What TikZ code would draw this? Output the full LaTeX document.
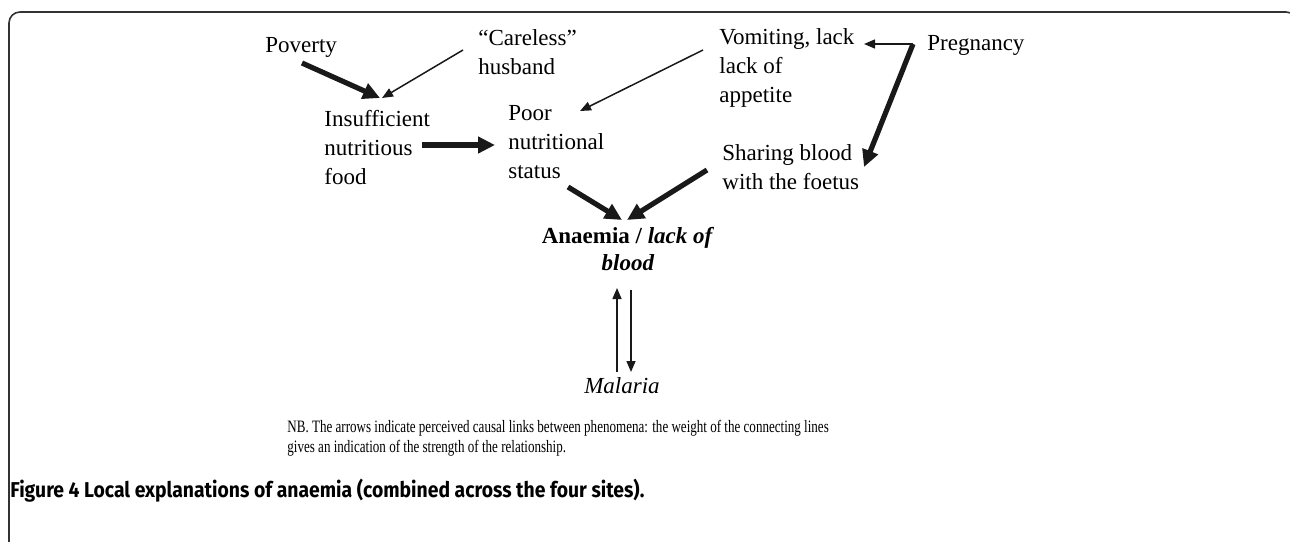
\documentclass[tikz,border=0pt]{standalone}
\usepackage{fontspec}
\setmainfont{Liberation Serif}
\newfontfamily\notefont[FakeStretch=0.75]{Liberation Serif}
\newfontfamily\capfont[FakeStretch=0.9]{Fira Sans}
\usetikzlibrary{arrows.meta,positioning,calc}
\tikzset{
  factor/.style={ % a perceived cause, set as plain text
    anchor=base west, align=left, inner sep=0pt,
    font=\fontsize{11.5}{14.5}\selectfont
  },
  strong/.style={ % heavy line: strong relationship
    -{Triangle[length=8.5pt,width=8pt]}, line width=2.6pt, black!90
  },
  weak/.style={ % light line: weak relationship
    -{Triangle[length=5.5pt,width=4.5pt]}, line width=0.75pt, black!90
  }
}

\begin{document}
\begin{tikzpicture}[x=0.5pt, y=-0.5pt]
  \useasboundingbox (0,0) rectangle (1290,541);
  \clip (0,0) rectangle (1290,541);
  \draw[rounded corners=5.5pt, line width=0.8pt, black!80]
    (9,600) -- (9,12) -- (1297,12) -- (1297,600);

  % the factors (base = baseline of the last line)
  \node[factor] (poverty) at (265,52) {Poverty};
  \node[factor] (husband) at (478,74) {``Careless''\\husband};
  \node[factor] (vomit) at (719,102) {Vomiting, lack\\lack of\\appetite};
  \node[factor] (preg) at (927,50) {Pregnancy};
  \node[factor] (food) at (324,184) {Insufficient\\nutritious\\food};
  \node[factor] (status) at (508,178) {Poor\\nutritional\\status};
  \node[factor] (share) at (722,189) {Sharing blood\\with the foetus};
  \node[factor, anchor=base, align=center, font=\fontsize{11.5}{13.5}\selectfont\bfseries]
    (anaemia) at (628,270) {Anaemia / \textit{lack of}\\\textit{blood}};
  \node[factor, anchor=base, font=\fontsize{11.5}{14.5}\selectfont\itshape]
    (malaria) at (622,393) {Malaria};

  % where the arrows start and end
  \coordinate (pov-out) at (302,63);
  \coordinate (hus-out) at (463,50);
  \coordinate (food-in1) at (380,98);
  \coordinate (food-in2) at (382,98);
  \coordinate (food-out) at (422,145);
  \coordinate (stat-in1) at (495,145);
  \coordinate (vom-out) at (703,50);
  \coordinate (stat-in2) at (580,111);
  \coordinate (preg-out) at (913,44);
  \coordinate (vom-in) at (864,44);
  \coordinate (share-in) at (864,167);
  \coordinate (stat-out) at (568,187);
  \coordinate (share-out) at (707,170);
  \coordinate (an-in1) at (622,220);
  \coordinate (an-in2) at (627,220);
  \coordinate (mal-up) at (617,372);
  \coordinate (an-up) at (617,288);
  \coordinate (an-down) at (631,290);
  \coordinate (mal-down) at (631,372);

  \draw[strong] (pov-out) -- (food-in1);
  \draw[weak] (hus-out) -- (food-in2);
  \draw[strong] (food-out) -- (stat-in1);
  \draw[weak] (vom-out) -- (stat-in2);
  \draw[weak] (preg-out) -- (vom-in);
  \draw[strong] (preg-out) -- (share-in);
  \draw[strong] (stat-out) -- (an-in1);
  \draw[strong] (share-out) -- (an-in2);
  \draw[weak] (mal-up) -- (an-up);
  \draw[weak] (an-down) -- (mal-down);

  % note and caption
  \node[anchor=base west, align=left, inner sep=0pt,
        font=\notefont\fontsize{8.7}{10}\selectfont] (note) at (287,452)
    {NB. The arrows indicate perceived causal links between phenomena: the weight of the connecting lines\\
     gives an indication of the strength of the relationship.};
  \node[anchor=base west, inner sep=0pt, font=\capfont\bfseries\fontsize{10.75}{12}\selectfont]
    (caption) at (10,497)
    {Figure 4 Local explanations of anaemia (combined across the four sites).};
\end{tikzpicture}
\end{document}
